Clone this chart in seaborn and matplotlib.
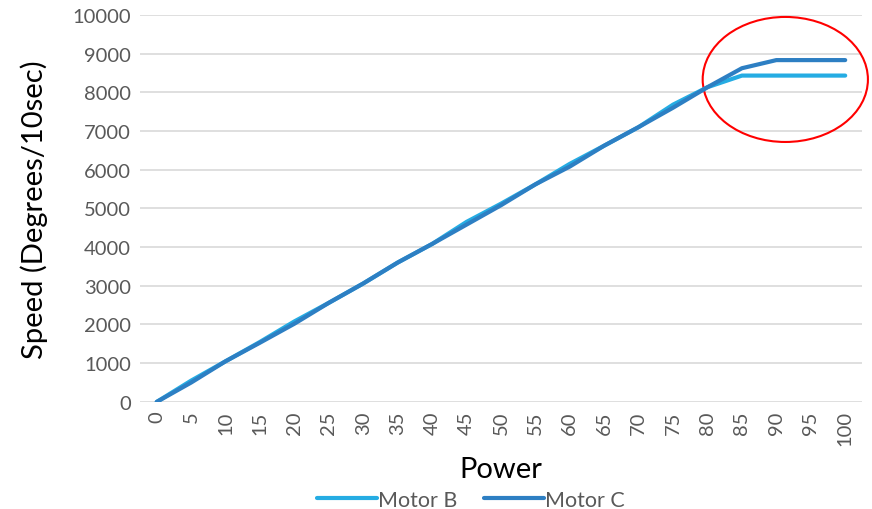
import seaborn as sns
import pandas as pd
import matplotlib
matplotlib.use('Agg')
import matplotlib.pyplot as plt
from matplotlib.patches import Ellipse

power = [0, 5, 10, 15, 20, 25, 30, 35, 40, 45, 50, 55, 60, 65, 70, 75, 80, 85, 90, 95, 100]
motor_b = [0, 550, 1050, 1550, 2080, 2560, 3060, 3600, 4080, 4650, 5120, 5620, 6150, 6620, 7100, 7680, 8130, 8430, 8430, 8430, 8430]
motor_c = [0, 500, 1050, 1530, 2020, 2560, 3060, 3600, 4080, 4580, 5080, 5620, 6080, 6620, 7100, 7600, 8130, 8620, 8830, 8830, 8830]

df = pd.DataFrame({'Power': power * 2,
                   'Speed': motor_b + motor_c,
                   'Motor': ['Motor B'] * len(power) + ['Motor C'] * len(power)})

sns.set_style('white')
plt.rcParams['font.family'] = ['Lato', 'DejaVu Sans']

fig = plt.figure(figsize=(8.72, 5.1), dpi=100)
ax = fig.add_axes([0.16, 0.21, 0.829, 0.759])

pal = {'Motor B': '#25ACE3', 'Motor C': '#2D7FC3'}
sns.lineplot(data=df, x='Power', y='Speed', hue='Motor', palette=pal, lw=3,
             ax=ax, legend=True, solid_capstyle='round')

ax.set_xlim(-2.5, 102.5)
ax.set_ylim(0, 10000)
ax.set_yticks(range(0, 10001, 1000))
ax.set_xticks(power)
ax.set_xticklabels([str(p) for p in power], rotation=90)
ax.tick_params(axis='both', labelsize=14.5, labelcolor='#595959', length=0, pad=6)
ax.yaxis.grid(True, color='#D9D9D9', lw=1.2)
ax.set_axisbelow(True)
for s in ax.spines.values():
    s.set_visible(False)
ax.set_xlabel('Power', fontsize=21, color='black', labelpad=8)
ax.set_ylabel('Speed (Degrees/10sec)', fontsize=21, color='black', labelpad=18)

# red circle around the saturation region
ell = Ellipse((91.3, 8330), width=24, height=3230, fill=False, edgecolor='red',
              lw=1.5, clip_on=False)
ax.add_patch(ell)

handles, labels = ax.get_legend_handles_labels()
ax.get_legend().remove()
fig.legend(handles, labels, loc='lower center', bbox_to_anchor=(0.54, -0.04), ncol=2,
           frameon=False, fontsize=15.5, labelcolor='#595959', handlelength=2.8,
           handletextpad=0.05, columnspacing=1.2)

plt.savefig('out.png', dpi=100)
